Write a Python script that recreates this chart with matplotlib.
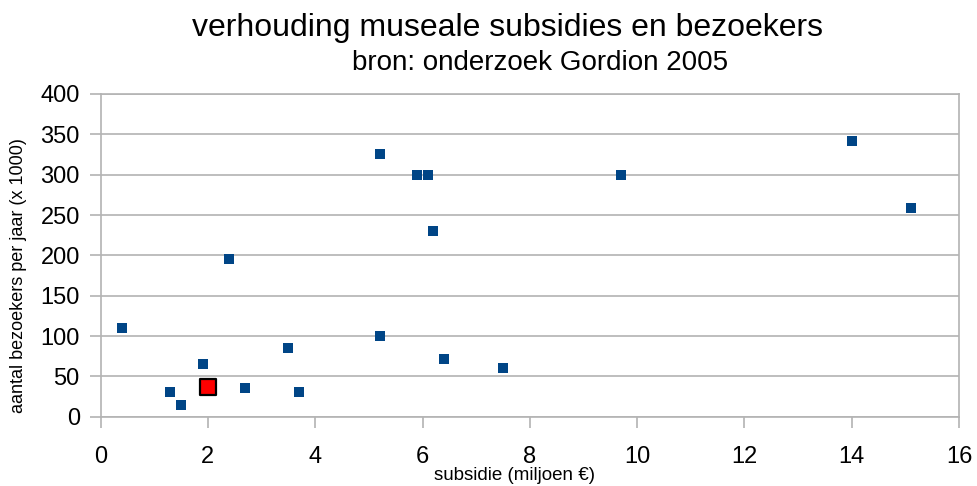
import matplotlib
matplotlib.use('Agg')
import matplotlib.pyplot as plt

# Data (subsidie in miljoen euro, bezoekers x 1000)
subsidie = [0.4, 1.3, 1.5, 1.9, 2.4, 2.7, 3.5, 3.7, 5.2, 5.2, 5.9, 6.1, 6.2, 6.4, 7.5, 9.7, 14.0, 15.1]
bezoekers = [110, 30, 15, 65, 195, 35, 85, 30, 325, 100, 300, 300, 230, 72, 60, 300, 342, 259]

# highlighted museum
hl_subsidie = [2.0]
hl_bezoekers = [37]

x_ticks = [0, 2, 4, 6, 8, 10, 12, 14, 16]
y_ticks = [0, 50, 100, 150, 200, 250, 300, 350, 400]

plt.rcParams['font.family'] = ['Liberation Sans', 'DejaVu Sans']

fig = plt.figure(figsize=(9.77, 4.86), dpi=100)
ax = fig.add_axes([0.103, 0.1426, 0.8786, 0.664])

ax.scatter(subsidie, bezoekers, marker='s', s=45, color='#004586', linewidths=0, zorder=3)
ax.scatter(hl_subsidie, hl_bezoekers, marker='s', s=140, color='#ff0000',
           edgecolors='black', linewidths=1.6, zorder=4)

ax.set_xlim(0, 16)
ax.set_ylim(0, 400)
ax.set_xticks(x_ticks)
ax.set_yticks(y_ticks)
ax.tick_params(axis='both', labelsize=17, length=8, width=1.2, color='#b3b3b3')
ax.tick_params(axis='x', pad=13)
ax.tick_params(axis='y', pad=7)

ax.yaxis.grid(True, color='#b3b3b3', linewidth=1.2)
ax.set_axisbelow(True)
for sp in ax.spines.values():
    sp.set_color('#b3b3b3')
    sp.set_linewidth(1.2)

fig.text(0.527, 0.021, 'subsidie (miljoen €)', fontsize=13.5, ha='center', va='center')
fig.text(0.019, 0.434, 'aantal bezoekers per jaar (x 1000)', fontsize=13,
         ha='center', va='center', rotation=90)

fig.text(0.519, 0.942, 'verhouding museale subsidies en bezoekers', fontsize=23,
         ha='center', va='center')
fig.text(0.553, 0.870, 'bron: onderzoek Gordion 2005', fontsize=20,
         ha='center', va='center')

fig.savefig('out.png', dpi=100)
